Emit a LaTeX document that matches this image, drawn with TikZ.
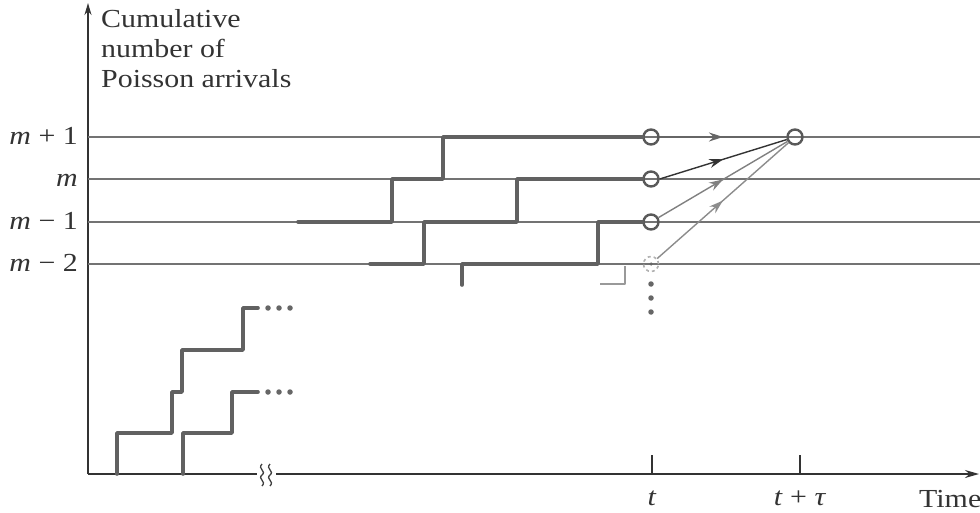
\documentclass[tikz,border=0pt]{standalone}
\usepackage{fontspec}
\setmainfont{Liberation Serif}[FakeStretch=1.15]
\usetikzlibrary{arrows.meta,decorations.markings}
\begin{document}
\begin{tikzpicture}[x=1pt,y=-1pt,
  axis/.style={draw=black!80,line width=1.8pt},
  level/.style={draw=black!55,line width=1.4pt},
  stair/.style={draw=black!62,line width=3.6pt,line cap=round,line join=round},
  stairlight/.style={draw=black!40,line width=2.6pt,line join=round},
  circ/.style={circle,draw=black!65,line width=2.4pt,minimum size=15pt,inner sep=0pt},
  circlight/.style={circle,draw=black!30,line width=1.6pt,dashed,minimum size=15pt,inner sep=0pt},
  dotm/.style={circle,fill=black!60,inner sep=0pt,minimum size=5.5pt},
  flow/.style={line width=1.4pt,postaction={decorate},
    decoration={markings,mark=at position 0.5 with {\arrow{Stealth[length=14pt,width=9pt]}}}},
  lab/.style={font=\fontsize{26}{30}\selectfont,text=black!80,inner sep=0pt},
]
\useasboundingbox (0,0) rectangle (980,513);
% axes
\coordinate (O) at (88,474);
\coordinate (Ytop) at (88,3);
\coordinate (Xend) at (979,474);
\draw[axis,-{Stealth[length=12pt,width=7pt]}] (O) -- (Ytop);
\draw[axis,-{Stealth[length=14pt,width=8pt]}] (O) -- (Xend);
% break mark on x axis
\fill[white] (257,467) rectangle (276,481);
\draw[black!75,line width=1.3pt] (262,464) .. controls (257,469) and (267,471) .. (262,475) .. controls (257,479) and (267,481) .. (262,486);
\draw[black!75,line width=1.3pt] (270,464) .. controls (265,469) and (275,471) .. (270,475) .. controls (265,479) and (275,481) .. (270,486);
% y-axis label
\node[lab,anchor=base west] (ylab1) at (101,28) {Cumulative};
\node[lab,anchor=base west] (ylab2) at (101,58) {number of};
\node[lab,anchor=base west] (ylab3) at (101,88) {Poisson arrivals};
% level lines
\coordinate (L1a) at (88,137); \coordinate (L1b) at (980,137);
\coordinate (L2a) at (88,179); \coordinate (L2b) at (980,179);
\coordinate (L3a) at (88,222); \coordinate (L3b) at (980,222);
\coordinate (L4a) at (88,264); \coordinate (L4b) at (980,264);
\draw[level] (L1a) -- (L1b);
\draw[level] (L2a) -- (L2b);
\draw[level] (L3a) -- (L3b);
\draw[level] (L4a) -- (L4b);
% level labels
\node[lab,anchor=base east] (lm1) at (78,145) {\textit{m} + 1};
\node[lab,anchor=base east] (lm) at (78,187) {\textit{m}};
\node[lab,anchor=base east] (lmm1) at (78,230) {\textit{m} − 1};
\node[lab,anchor=base east] (lmm2) at (78,272) {\textit{m} − 2};
% circles
\node[circ] (c1) at (651,137) {};
\node[circ] (c2) at (651,179) {};
\node[circ] (c3) at (651,222) {};
\node[circlight] (c4) at (651,264) {};
\node[dotm,minimum size=3.5pt] (c4d) at (651,264) {};
\node[circ] (T) at (795,137) {};
% dots under m-2
\node[dotm] (d1) at (651,284) {};
\node[dotm] (d2) at (651,298) {};
\node[dotm] (d3) at (651,312) {};
% staircase paths
\draw[stair] (298,222) -- (392,222) -- (392,179) -- (443,179) -- (443,137) -- (c1.west);
\draw[stair] (370,264) -- (424,264) -- (424,222) -- (517,222) -- (517,179) -- (c2.west);
\draw[stair] (462,285) -- (462,264) -- (598,264) -- (598,222) -- (c3.west);
\draw[stairlight] (600,284) -- (625,284) -- (625,266);
% converging arrows
\draw[flow,draw=black!60] (c1.east) -- (T.west);
\draw[flow,draw=black!80] (c2.east) -- (T);
\draw[flow,draw=black!50] (c3) -- (T);
\draw[flow,draw=black!45] (c4) -- (T);
% ticks
\coordinate (tk1) at (652,455);
\coordinate (tk2) at (800,455);
\draw[axis] (tk1) -- (652,474);
\draw[axis] (tk2) -- (800,474);
\node[lab,anchor=base] (tl) at (652,505) {\textit{t}};
\node[lab,anchor=base] (ttl) at (800,505) {\textit{t} + \textit{τ}};
\node[lab,anchor=base west] (time) at (919,507) {Time};
% lower staircases
\draw[stair] (117,474) -- (117,433) -- (172,433) -- (172,392) -- (182,392) -- (182,350) -- (243,350) -- (243,308) -- (258,308);
\draw[stair] (183,474) -- (183,433) -- (232,433) -- (232,392) -- (258,392);
\node[dotm] (e1) at (268,308) {};
\node[dotm] (e2) at (279,308) {};
\node[dotm] (e3) at (290,308) {};
\node[dotm] (f1) at (268,392) {};
\node[dotm] (f2) at (279,392) {};
\node[dotm] (f3) at (290,392) {};
\end{tikzpicture}
\end{document}
